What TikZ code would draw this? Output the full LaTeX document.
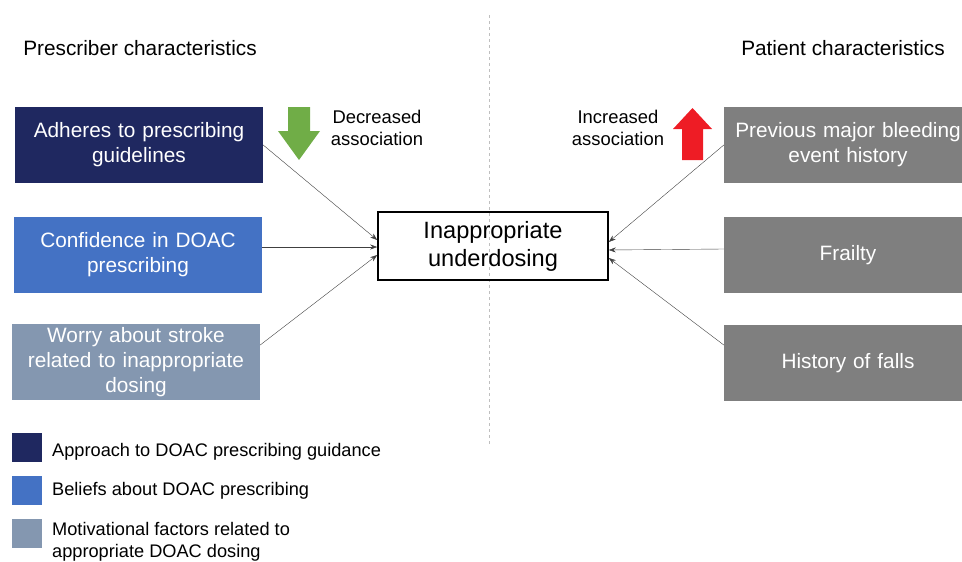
\documentclass[tikz,border=0pt]{standalone}
\usepackage{fontspec}
\setmainfont{Liberation Sans}
\usetikzlibrary{arrows.meta}

\definecolor{guidance}{HTML}{1F2860}
\definecolor{beliefs}{HTML}{4472C4}
\definecolor{motivation}{HTML}{8497B0}
\definecolor{patientgray}{HTML}{7F7F7F}
\definecolor{decgreen}{HTML}{70AD47}
\definecolor{incred}{HTML}{EE1C25}

\tikzset{
    factor/.style={minimum width=248pt, minimum height=76pt, text width=246pt, align=center,
        text=white, font=\fontsize{20.8}{25}\selectfont, inner sep=0pt},
    link/.style={draw=black!75, thin, -{Stealth[length=7pt, width=5pt]}},
    legendbox/.style={minimum width=30pt, minimum height=29pt, inner sep=0pt},
    legendtext/.style={anchor=west, align=left, font=\fontsize{18.2}{22}\selectfont, inner sep=0pt}
}

\begin{document}
\begin{tikzpicture}[x=1pt, y=-1pt]
    \useasboundingbox (0, 0) rectangle (962, 562);
    \draw[gray!50, dashed, thin] (489, 15) -- (489, 445);

    \node[font=\fontsize{20.8}{24}\selectfont] (prescriber) at (140, 48) {Prescriber characteristics};
    \node[font=\fontsize{20.8}{24}\selectfont] (patient) at (843, 48) {Patient characteristics};

    % prescriber side
    \node[factor, fill=guidance] (adheres) at (139, 145) {Adheres to prescribing\\guidelines};
    \node[factor, fill=beliefs] (confidence) at (138, 255) {Confidence in DOAC\\prescribing};
    \node[factor, fill=motivation] (worry) at (136, 362) {Worry about stroke\\related to inappropriate\\dosing};

    % patient side
    \node[factor, fill=patientgray] (bleeding) at (848, 145) {Previous major bleeding\\event history};
    \node[factor, fill=patientgray] (frailty) at (848, 255) {Frailty};
    \node[factor, fill=patientgray] (falls) at (848, 363) {History of falls};

    \node[draw, line width=1.6pt, minimum width=230pt, minimum height=68pt, align=center,
        font=\fontsize{23.6}{28}\selectfont, inner sep=0pt] (underdosing) at (493, 246) {Inappropriate\\underdosing};

    \draw[link] (adheres.east) -- ([yshift=6pt]underdosing.west);
    \draw[link] ([yshift=8pt]confidence.east) -- ([yshift=-1pt]underdosing.west);
    \draw[link] ([yshift=17pt]worry.east) -- ([yshift=-9pt]underdosing.west);
    \draw[link] (bleeding.west) -- ([yshift=4pt]underdosing.east);
    \draw[link] ([yshift=6pt]frailty.west) -- ([yshift=-4pt]underdosing.east);
    \draw[link] ([yshift=18pt]falls.west) -- ([yshift=-12pt]underdosing.east);

    % association arrows
    \fill[decgreen] (288, 107) -- (310, 107) -- (310, 131) -- (320, 131) -- (299, 160)
        -- (278, 131) -- (288, 131) -- cycle;
    \node[align=center, font=\fontsize{18.4}{22}\selectfont] (decreased) at (377, 128) {Decreased\\association};
    \fill[incred] (682, 160) -- (703, 160) -- (703, 129) -- (712, 129) -- (692.5, 108)
        -- (673, 129) -- (682, 129) -- cycle;
    \node[align=center, font=\fontsize{18.4}{22}\selectfont] (increased) at (618, 128) {Increased\\association};

    % legend
    \node[legendbox, fill=guidance] (keyguidance) at (27, 447.5) {};
    \node[legendbox, fill=beliefs] (keybeliefs) at (27, 490) {};
    \node[legendbox, fill=motivation] (keymotivation) at (27, 533) {};
    \node[legendtext] at (52, 452) {Approach to DOAC prescribing guidance};
    \node[legendtext] at (52, 491) {Beliefs about DOAC prescribing};
    \node[legendtext] at (52, 542) {Motivational factors related to\\appropriate DOAC dosing};
\end{tikzpicture}
\end{document}
